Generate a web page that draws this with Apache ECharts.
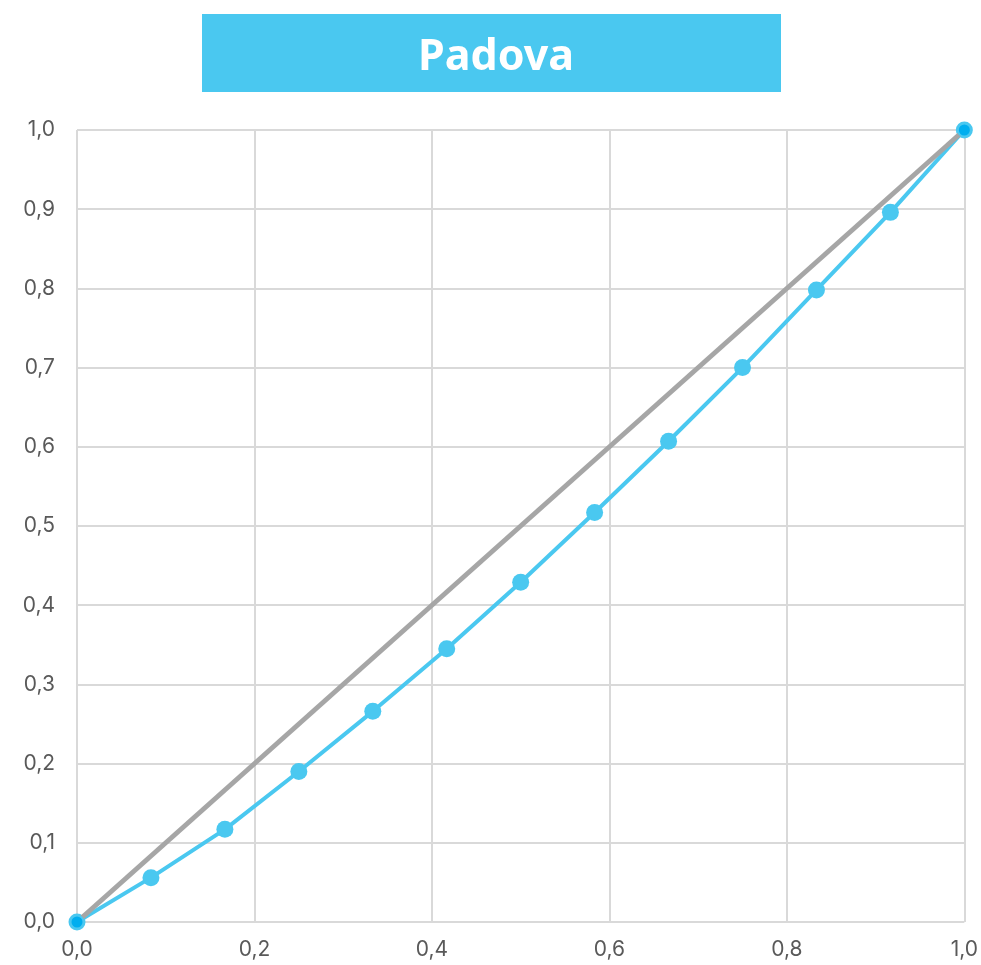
<!DOCTYPE html>
<html>
<head>
<meta charset="utf-8">
<script src="https://cdn.jsdelivr.net/npm/echarts@6/dist/echarts.min.js"></script>
<style>
html,body{margin:0;padding:0;background:#fff;}
#chart{width:981px;height:965px;}
</style>
</head>
<body>
<div id="chart"></div>
<script>
const titleText = 'Padova';
const xValues = [0, 1/12, 2/12, 3/12, 4/12, 5/12, 6/12, 7/12, 8/12, 9/12, 10/12, 11/12, 1];
const lorenzValues = [0, 0.056, 0.117, 0.190, 0.266, 0.345, 0.429, 0.517, 0.607, 0.700, 0.798, 0.896, 1];
const equalityX = [0, 1];
const equalityY = [0, 1];

const fmt = v => v.toFixed(1).replace('.', ',');

const chart = echarts.init(document.getElementById('chart'), null, {renderer: 'canvas'});
chart.setOption({
  animation: false,
  backgroundColor: '#ffffff',
  graphic: [{
    type: 'rect',
    shape: {x: 202, y: 14, width: 579, height: 78},
    style: {fill: '#4ac8f0'},
    z: 0
  }],
  title: {
    text: titleText,
    left: 491,
    top: 53,
    textAlign: 'center',
    textVerticalAlign: 'middle',
    textStyle: {color: '#ffffff', fontFamily: 'Noto Sans', fontWeight: 'bold', fontSize: 43, lineHeight: 43},
    z: 5
  },
  grid: {left: 77, right: 16, top: 130, bottom: 43, containLabel: false},
  xAxis: {
    type: 'value', min: 0, max: 1, interval: 0.2,
    axisLine: {show: false},
    axisTick: {show: false},
    splitLine: {show: true, lineStyle: {color: '#d9d9d9', width: 2}},
    axisLabel: {formatter: fmt, color: '#595959', fontFamily: 'Inter', fontSize: 21, margin: 17}
  },
  yAxis: {
    type: 'value', min: 0, max: 1, interval: 0.1,
    axisLine: {show: false},
    axisTick: {show: false},
    splitLine: {show: true, lineStyle: {color: '#d9d9d9', width: 2}},
    axisLabel: {formatter: fmt, color: '#595959', fontFamily: 'Inter', fontSize: 21, margin: 22}
  },
  series: [
    {
      type: 'line',
      data: xValues.map((x, i) => [x, lorenzValues[i]]),
      symbol: 'circle', symbolSize: 17,
      lineStyle: {color: '#4ac8f0', width: 4},
      itemStyle: {color: '#4ac8f0'},
      z: 2
    },
    {
      type: 'line',
      data: equalityX.map((x, i) => [x, equalityY[i]]),
      symbol: 'circle', symbolSize: 13,
      lineStyle: {color: '#a6a6a6', width: 5},
      itemStyle: {color: '#00aeef', borderColor: '#4ac8f0', borderWidth: 2},
      z: 3
    }
  ]
});
</script>
</body>
</html>
